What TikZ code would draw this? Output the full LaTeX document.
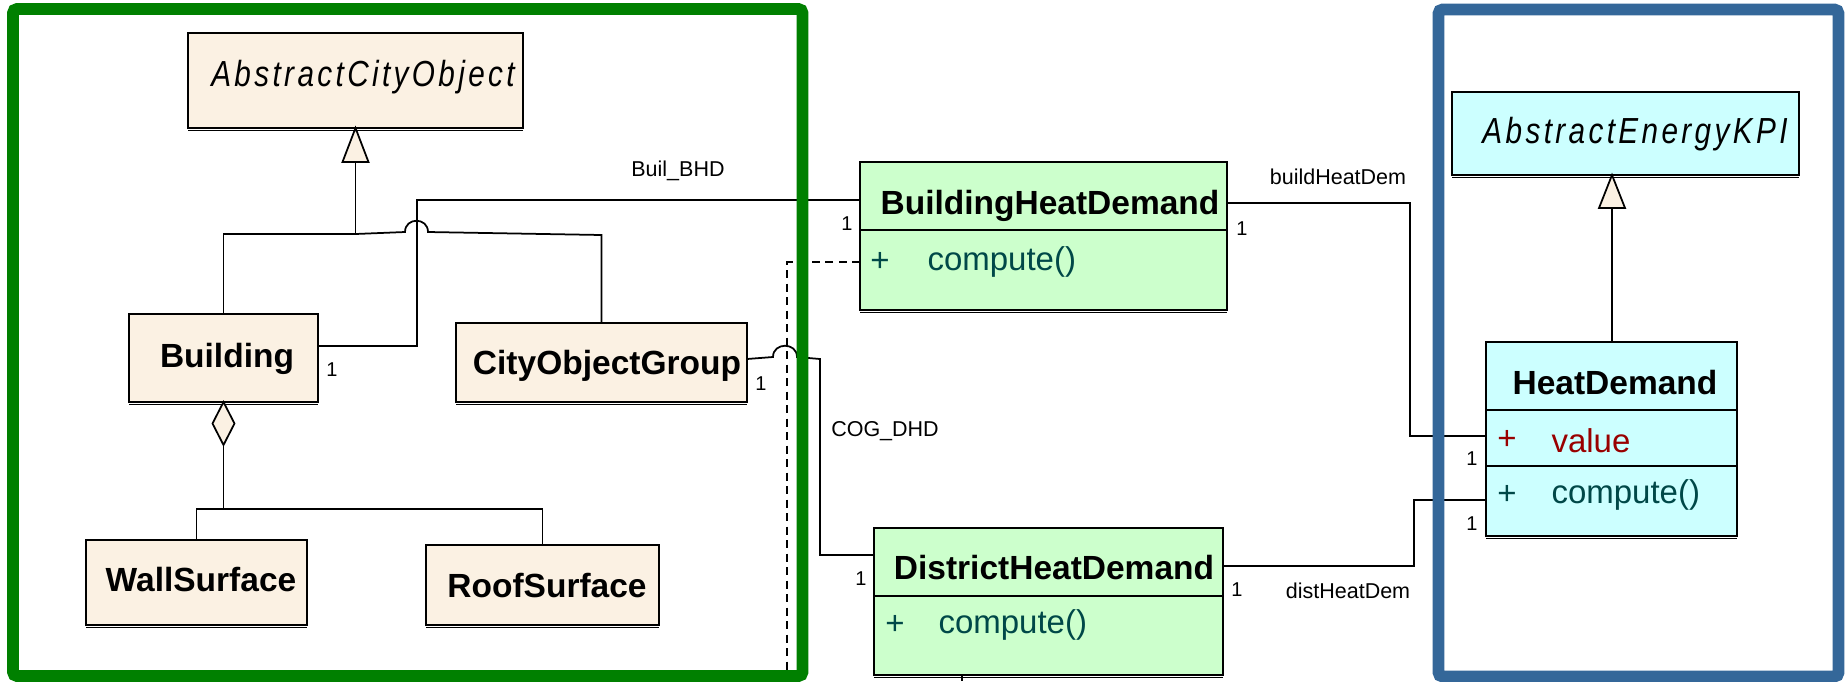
\documentclass[tikz,border=0pt]{standalone}
\usepackage{fontspec}
\setmainfont{Liberation Sans}
\newfontfamily\absfont{Liberation Sans}[FakeStretch=0.82,LetterSpace=9.3]
\usetikzlibrary{fit}

\definecolor{cityfill}{RGB}{251,241,227}
\definecolor{kpigreen}{RGB}{204,255,204}
\definecolor{kpicyan}{RGB}{204,255,255}
\definecolor{pkggreen}{RGB}{0,128,0}
\definecolor{pkgblue}{RGB}{52,103,153}
\definecolor{optext}{RGB}{0,72,72}
\definecolor{attrtext}{RGB}{153,0,0}

\tikzset{
  cls/.style={draw=black, line width=0.8pt, inner sep=0pt, outer sep=0pt},
  cityclass/.style={cls, fill=cityfill},
  greenclass/.style={cls, fill=kpigreen},
  cyanclass/.style={cls, fill=kpicyan},
  shadowline/.style={line width=0.7pt},
  sepline/.style={line width=0.6pt},
  classname/.style={font=\fontsize{13.4pt}{15pt}\selectfont\bfseries, inner sep=0pt,
    text height=9.6pt, text depth=0pt},
  absname/.style={font=\absfont\fontsize{14.5pt}{16pt}\selectfont\itshape, inner sep=0pt,
    text height=10.4pt, text depth=0pt},
  member/.style={font=\fontsize{13.2pt}{15pt}\selectfont, inner sep=0pt},
  assoc/.style={line width=0.7pt},
  lbl/.style={font=\fontsize{8.6pt}{10pt}\selectfont, inner sep=0pt, text height=6.2pt, text depth=0pt},
  mult/.style={font=\fontsize{8pt}{10pt}\selectfont, inner sep=0pt, text height=5.7pt, text depth=0pt},
  pkgframe/.style={line width=4.7pt, rounded corners=1.6pt},
  depline/.style={line width=0.7pt, dash pattern=on 3.2pt off 2.2pt},
}

\begin{document}
\begin{tikzpicture}[x=0.4pt,y=-0.4pt]
\useasboundingbox (0,0) rectangle (1845,681);

% ---------- class boxes (outlines only; text added below) ----------
\node[cityclass, fit={(188,33) (523,128)}] (aco) {};
\node[cityclass, fit={(129,314) (318,402)}] (bld) {};
\node[cityclass, fit={(456,323) (747,402)}] (cog) {};
\node[cityclass, fit={(86,540) (307,625)}] (wall) {};
\node[cityclass, fit={(426,545) (659,625)}] (roof) {};
\node[greenclass, fit={(860,162) (1227,310)}] (bhd) {};
\node[greenclass, fit={(874,528) (1223,675)}] (dhd) {};
\node[cyanclass, fit={(1452,92) (1799,175)}] (aek) {};
\node[cyanclass, fit={(1486,342) (1737,536)}] (hd) {};

% helper points for connectors
\coordinate (acoBase) at (355.5,162);
\coordinate (acoJoin) at (355.5,234);
\coordinate (bldDia) at (223.5,445);
\coordinate (aggJoin) at (223.5,509);
\coordinate (depEnd) at (787,681);
\coordinate (dhdOut) at (962,681);
\coordinate (aekTip) at (1612,175);
\coordinate (aekBase) at (1612,208);

% ---------- connectors ----------
% generalization tree under AbstractCityObject
\draw[assoc] (bld.north) |- (acoJoin) -- (acoBase);
\draw[assoc] (cog.north) -- (601.5,235) -- (428,232)
  .. controls (428,217) and (405,217) .. (405,232) -- (acoJoin);
% aggregation Building <>-- surfaces
\draw[assoc] (bldDia) -- (aggJoin);
\draw[assoc] (wall.north) |- (aggJoin) -| (roof.north);
% Buil_BHD
\draw[assoc] (bld.east |- 0,346) -- (417,346) -- (417,200) -- (bhd.west |- 0,200);
% COG_DHD
\draw[assoc] (cog.east |- 0,359) -- (773,357)
  .. controls (773,342) and (797,342) .. (797,357) -- (820,359) -- (820,555) -- (dhd.west |- 0,555);
% dependency
\draw[depline] (bhd.west |- 0,262) -- (787,262) -- (depEnd);
% buildHeatDem / distHeatDem
\draw[assoc] (bhd.east |- 0,203) -- (1410,203) -- (1410,436) -- (hd.west |- 0,436);
\draw[assoc] (dhd.east |- 0,566) -- (1414,566) -- (1414,500) -- (hd.west |- 0,500);
% HeatDemand generalization
\draw[assoc] (hd.north -| aekBase) -- (aekBase);
% outgoing line below DistrictHeatDemand
\draw[assoc] (dhdOut |- dhd.south) -- (dhdOut);

% ---------- package frames ----------
\draw[pkgframe, draw=pkggreen] (13,9) rectangle (802.5,676);
\draw[pkgframe, draw=pkgblue] (1438.5,9.5) rectangle (1838.5,676.5);

% ---------- redraw boxes on top, with shadow lines and compartments ----------
\foreach \n/\f in {aco/cityfill,bld/cityfill,cog/cityfill,wall/cityfill,roof/cityfill,
                   bhd/kpigreen,dhd/kpigreen,aek/kpicyan,hd/kpicyan}{
  \draw[cls, fill=\f] (\n.north west) rectangle (\n.south east);
  \draw[shadowline] ([yshift=-1pt]\n.south west) -- ([yshift=-1pt]\n.south east);
}
\draw[sepline] (bhd.west |- 0,230) -- (bhd.east |- 0,230);
\draw[sepline] (dhd.west |- 0,596) -- (dhd.east |- 0,596);
\draw[sepline] (hd.west |- 0,410) -- (hd.east |- 0,410);
\draw[sepline] (hd.west |- 0,466) -- (hd.east |- 0,466);

% arrow heads: hollow triangles and aggregation diamond
\draw[assoc, fill=cityfill] (aco.south) -- (342.5,162) -- (368.5,162) -- cycle;
\draw[assoc, fill=cityfill] (aekTip) -- (1599,208) -- (1625,208) -- cycle;
\draw[assoc, fill=cityfill] (bld.south -| bldDia) -- (234.5,423.5) -- (bldDia) -- (212.5,423.5) -- cycle;

% ---------- class names ----------
\node[absname] (t-aco) at (363,73) {AbstractCityObject};
\node[classname] (t-bld) at (227,355) {Building};
\node[classname] (t-cog) at (607,362) {CityObjectGroup};
\node[classname] (t-wall) at (201,579) {WallSurface};
\node[classname] (t-roof) at (547,585) {RoofSurface};
\node[classname] (t-bhd) at (1050,202) {BuildingHeatDemand};
\node[classname] (t-dhd) at (1054,567) {DistrictHeatDemand};
\node[absname] (t-aek) at (1635,130) {AbstractEnergyKPI};
\node[classname] (t-hd) at (1615,382) {HeatDemand};

% ---------- members ----------
\node[member, text=optext] (p-bhd) at (880,262) {+};
\node[member, text=optext, anchor=west] (o-bhd) at (927,262) {compute()};
\node[member, text=optext] (p-dhd) at (895,625) {+};
\node[member, text=optext, anchor=west] (o-dhd) at (938,625) {compute()};
\node[member, text=attrtext] (p-hda) at (1507,440) {+};
\node[member, text=attrtext, anchor=west] (a-hd) at (1551,441) {value};
\node[member, text=optext] (p-hdo) at (1507,495) {+};
\node[member, text=optext, anchor=west] (o-hd) at (1551,495) {compute()};

% ---------- association labels and multiplicities ----------
\node[lbl] (l-bb) at (678,169) {Buil\_BHD};
\node[lbl] (l-cd) at (885,429) {COG\_DHD};
\node[lbl] (l-bh) at (1338,177) {buildHeatDem};
\node[lbl] (l-dh) at (1348,591) {distHeatDem};

\node[mult] (m1) at (332,369) {1};
\node[mult] (m2) at (847,223) {1};
\node[mult] (m3) at (761,383) {1};
\node[mult] (m4) at (861,578) {1};
\node[mult] (m5) at (1242,228) {1};
\node[mult] (m6) at (1237,589) {1};
\node[mult] (m7) at (1472,458) {1};
\node[mult] (m8) at (1472,523) {1};
\end{tikzpicture}
\end{document}
